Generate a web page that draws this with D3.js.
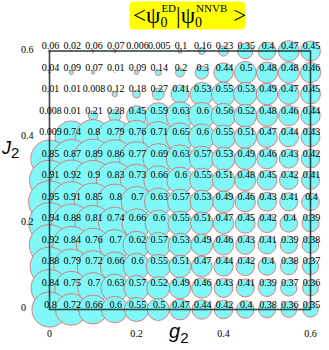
<!DOCTYPE html>
<html>
<head>
<meta charset="utf-8">
<script src="https://cdn.jsdelivr.net/npm/d3@7"></script>
<style>
  body { margin: 0; background: #fff; }
  svg { display: block; }
</style>
</head>
<body>
<svg id="mainsvg" width="329" height="350"></svg>
<script>
// grid of g2 (columns) and J2 (rows, top to bottom)
const g2Values = [0, 0.05, 0.1, 0.15, 0.2, 0.25, 0.3, 0.35, 0.4, 0.45, 0.5, 0.55, 0.6];
const j2Values = [0.6, 0.55, 0.5, 0.45, 0.4, 0.35, 0.3, 0.25, 0.2, 0.15, 0.1, 0.05, 0];

// overlap |<psi_ED|psi_NNVB>|, one row per J2
const overlapRows = [
  ['0.06', '0.02', '0.06', '0.07', '0.006', '0.005', '0.1', '0.16', '0.23', '0.35', '0.4', '0.47', '0.45'],
  ['0.04', '0.09', '0.07', '0.01', '0.09', '0.14', '0.2', '0.3', '0.44', '0.5', '0.48', '0.48', '0.46'],
  ['0.01', '0.01', '0.008', '0.12', '0.18', '0.27', '0.41', '0.53', '0.55', '0.53', '0.49', '0.47', '0.45'],
  ['0.008', '0.01', '0.21', '0.28', '0.45', '0.59', '0.63', '0.6', '0.56', '0.52', '0.48', '0.46', '0.44'],
  ['0.009', '0.74', '0.8', '0.79', '0.76', '0.71', '0.65', '0.6', '0.55', '0.51', '0.47', '0.44', '0.43'],
  ['0.85', '0.87', '0.89', '0.86', '0.77', '0.69', '0.63', '0.57', '0.53', '0.49', '0.46', '0.43', '0.42'],
  ['0.91', '0.92', '0.9', '0.83', '0.73', '0.66', '0.6', '0.55', '0.51', '0.48', '0.45', '0.42', '0.41'],
  ['0.95', '0.91', '0.85', '0.8', '0.7', '0.63', '0.57', '0.53', '0.49', '0.46', '0.43', '0.41', '0.4'],
  ['0.94', '0.88', '0.81', '0.74', '0.66', '0.6', '0.55', '0.51', '0.47', '0.45', '0.42', '0.4', '0.39'],
  ['0.92', '0.84', '0.76', '0.7', '0.62', '0.57', '0.53', '0.49', '0.46', '0.43', '0.41', '0.39', '0.38'],
  ['0.88', '0.79', '0.72', '0.66', '0.6', '0.55', '0.51', '0.47', '0.44', '0.42', '0.4', '0.38', '0.37'],
  ['0.84', '0.75', '0.7', '0.63', '0.57', '0.52', '0.49', '0.46', '0.43', '0.41', '0.39', '0.37', '0.36'],
  ['0.8', '0.72', '0.66', '0.6', '0.55', '0.5', '0.47', '0.44', '0.42', '0.4', '0.38', '0.36', '0.35']
];

const xTicks = [0, 0.2, 0.4, 0.6];
const yTicks = [0.6, 0.4, 0.2, 0];

const svg = d3.select('#mainsvg');
const serif = '"Liberation Serif", "DejaVu Serif", serif';

const xScale = d3.scaleLinear().domain([0, 0.6]).range([49.5, 310.5]);
const yScale = d3.scaleLinear().domain([0, 0.6]).range([309.5, 51]);
const rScale = d3.scaleLinear().domain([0, 1]).range([0, 22]);

// flatten into cells, top row first so lower rows sit on top
const cells = [];
overlapRows.forEach((row, i) => {
  row.forEach((v, j) => {
    cells.push({g: g2Values[j], J: j2Values[i], label: v, value: +v});
  });
});

const g = svg.append('g');

g.selectAll('circle.cell')
  .data(cells)
  .join('circle')
  .attr('class', 'cell')
  .attr('cx', d => xScale(d.g))
  .attr('cy', d => yScale(d.J))
  .attr('r', d => rScale(d.value))
  .attr('fill', '#80f8f8')
  .attr('stroke', '#e86060')
  .attr('stroke-width', 0.8);

// frame
g.append('rect')
  .attr('x', xScale(0))
  .attr('y', yScale(0.6))
  .attr('width', xScale(0.6) - xScale(0))
  .attr('height', yScale(0) - yScale(0.6))
  .attr('fill', 'none')
  .attr('stroke', '#223333')
  .attr('stroke-opacity', 0.9)
  .attr('stroke-width', 1.6);

g.selectAll('text.cell')
  .data(cells)
  .join('text')
  .attr('class', 'cell')
  .attr('x', d => xScale(d.g) + 1)
  .attr('y', d => yScale(d.J) - 2)
  .attr('text-anchor', 'middle')
  .attr('font-family', serif)
  .attr('font-size', '10px')
  .attr('fill', '#000')
  .text(d => d.label);

// tick labels
g.selectAll('text.ytick')
  .data(yTicks)
  .join('text')
  .attr('class', 'ytick')
  .attr('x', 21)
  .attr('y', d => yScale(d) + 1.5)
  .attr('font-family', serif)
  .attr('font-size', '10px')
  .text(d => d === 0 ? '0' : d3.format('.1f')(d));

g.selectAll('text.xtick')
  .data(xTicks)
  .join('text')
  .attr('class', 'xtick')
  .attr('x', d => xScale(d))
  .attr('y', 337)
  .attr('text-anchor', 'middle')
  .attr('font-family', serif)
  .attr('font-size', '10px')
  .text(d => d === 0 ? '0' : d3.format('.1f')(d));

// axis titles
const sans = '"Liberation Sans", Arial, sans-serif';
const jLabel = g.append('text')
  .attr('x', 2)
  .attr('y', 154)
  .attr('font-family', sans)
  .attr('font-size', '18px');
jLabel.append('tspan').attr('font-style', 'italic').text('J');
jLabel.append('tspan').attr('font-size', '15px').attr('dy', 4).text('2');

const gLabel = g.append('text')
  .attr('x', 169)
  .attr('y', 338)
  .attr('font-family', sans)
  .attr('font-size', '20px');
gLabel.append('tspan').attr('font-style', 'italic').text('g');
gLabel.append('tspan').attr('font-size', '15px').attr('dy', 5).text('2');

// title box
const title = svg.append('g');
title.append('rect')
  .attr('x', 129.5)
  .attr('y', 1.5)
  .attr('width', 115.5)
  .attr('height', 28)
  .attr('rx', 4)
  .attr('fill', '#ffff00');

const t = title.append('text')
  .attr('x', 133)
  .attr('y', 23)
  .attr('font-family', serif)
  .attr('font-size', '23px');
t.append('tspan').text('<\u03c8');
t.append('tspan').attr('font-size', '14px').attr('dy', 4).text('0');
t.append('tspan').attr('font-size', '11px').attr('dx', -6).attr('dy', -15).text('ED');
t.append('tspan').attr('dy', 11).text('|\u03c8');
t.append('tspan').attr('font-size', '14px').attr('dy', 4).text('0');
t.append('tspan').attr('font-size', '11px').attr('dx', -6).attr('dy', -15).text('NNVB');
t.append('tspan').attr('dx', 6).attr('dy', 11).text('>');
</script>
</body>
</html>
